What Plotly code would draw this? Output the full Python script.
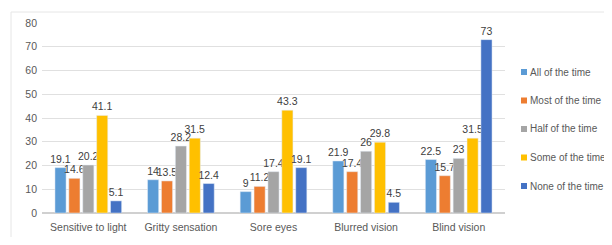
import plotly.graph_objects as go

categories = ["Sensitive to light", "Gritty sensation", "Sore eyes", "Blurred vision", "Blind vision"]
series_names = ["All of the time", "Most of the time", "Half of the time", "Some of the time", "None of the time"]
all_time = [19.1, 14, 9, 21.9, 22.5]
most_time = [14.6, 13.5, 11.2, 17.4, 15.7]
half_time = [20.2, 28.2, 17.4, 26, 23]
some_time = [41.1, 31.5, 43.3, 29.8, 31.5]
none_time = [5.1, 12.4, 19.1, 4.5, 73]
colors = ["#5B9BD5", "#ED7D31", "#A5A5A5", "#FFC000", "#4472C4"]
y_ticks = [0, 10, 20, 30, 40, 50, 60, 70, 80]

W, H = 604, 229
L, R, T, B = 34, 107, 15, 24
PW, PH = W - L - R, H - T - B


def px_x(fx):
    return (fx - L) / PW


def px_y(fy):
    return (H - B - fy) / PH


fig = go.Figure()
for name, vals, c in zip(series_names, [all_time, most_time, half_time, some_time, none_time], colors):
    fig.add_trace(go.Bar(
        x=categories, y=vals, name=name, marker_color=c, showlegend=False,
        text=[f"{v:g}" for v in vals], textposition="outside", constraintext="none",
        textfont=dict(size=10.5, color="#404040"), cliponaxis=False,
    ))

shapes = [
    dict(type="line", xref="paper", yref="paper", x0=px_x(3), x1=px_x(W + 10), y0=px_y(4), y1=px_y(4),
         line=dict(color="#E6E6E6", width=1)),
    dict(type="line", xref="paper", yref="paper", x0=px_x(3), x1=px_x(3), y0=px_y(H + 10), y1=px_y(4),
         line=dict(color="#E6E6E6", width=1)),
]
annotations = []
for i, (name, c) in enumerate(zip(series_names, colors)):
    cy = 64 + 28.5 * i
    shapes.append(dict(type="rect", xref="paper", yref="paper",
                       x0=px_x(513), x1=px_x(519), y0=px_y(cy + 3), y1=px_y(cy - 3),
                       fillcolor=c, line=dict(width=0)))
    annotations.append(dict(xref="paper", yref="paper", x=px_x(520), y=px_y(cy),
                            xanchor="left", yanchor="middle", text=name, showarrow=False,
                            font=dict(size=10, color="#595959")))

fig.update_layout(
    width=W, height=H,
    margin=dict(l=L, r=R, t=T, b=B, autoexpand=False),
    paper_bgcolor="white", plot_bgcolor="white",
    font=dict(family="Liberation Sans, Arial, sans-serif", size=10.5, color="#595959"),
    barmode="group", bargap=0.25, bargroupgap=0.2,
    showlegend=False,
    uniformtext=dict(mode="show", minsize=10),
    yaxis=dict(range=[0, 80], tickvals=y_ticks, showgrid=True, gridcolor="#E0E0E0",
               zeroline=True, zerolinecolor="#D0D0D0", ticks="", ticklabelstandoff=4,
               showline=False),
    xaxis=dict(showline=False, ticks="", ticklabelstandoff=6),
    shapes=shapes,
    annotations=annotations,
)
fig.write_html("out.html")
